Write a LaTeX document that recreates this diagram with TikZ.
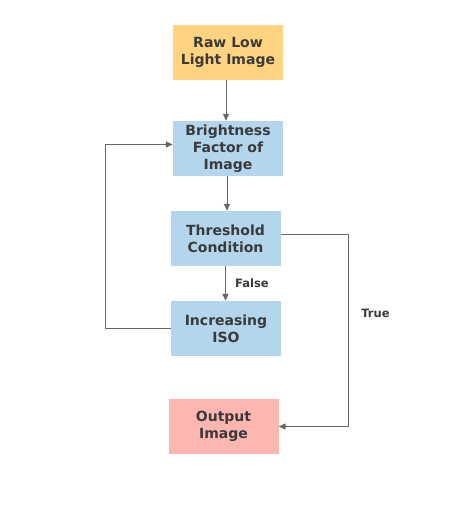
\documentclass[tikz,border=0pt]{standalone}
\usepackage{fontspec}
\setmainfont{DejaVu Sans}
\usetikzlibrary{arrows.meta,calc}
\definecolor{cOrange}{HTML}{FFD37F}
\definecolor{cBlue}{HTML}{B3D6EE}
\definecolor{cPink}{HTML}{FDB7B0}
\definecolor{cText}{HTML}{3A3A3A}
\definecolor{cLine}{HTML}{666666}
\tikzset{
  box/.style={rectangle, minimum width=110bp, minimum height=55bp, inner sep=0pt,
    align=center, text=cText, font=\fontsize{14bp}{17bp}\selectfont\bfseries},
  conn/.style={draw=cLine, line width=1bp, -{Triangle[length=7bp,width=6bp]}},
  lbl/.style={text=cText, font=\fontsize{11.5bp}{13bp}\selectfont\bfseries, inner sep=0pt}
}
\begin{document}
\begin{tikzpicture}[x=1bp,y=-1bp]
\useasboundingbox (0,0) rectangle (461,515);
\fill[white] (0,0) rectangle (461,515);
\node[box, fill=cOrange] (raw) at (228,52.5) {Raw Low\\Light Image};
\node[box, fill=cBlue] (bright) at (228,148.5) {Brightness\\Factor of\\Image};
\node[box, fill=cBlue] (thr) at (225.5,238.5) {Threshold\\Condition};
\node[box, fill=cBlue] (inc) at (226,328.5) {Increasing\\ISO};
\node[box, fill=cPink] (out) at (223.5,426.5) {Output\\Image};
\draw[conn] ($(raw.south)+(-2,0)$) -- ($(raw.south |- bright.north)+(-2,0)$);
\draw[conn] ($(bright.south)+(-1,0)$) -- ($(bright.south |- thr.north)+(-1,0)$);
\draw[conn] (thr.south) -- (thr.south |- inc.north);
\draw[conn] (inc.west) -- ++(-65.5,0) |- ($(bright.west)+(0,-4)$);
\draw[conn] ($(thr.east)+(0,-4.5)$) -- ++(67.5,0) |- (out.east);
\node[lbl, anchor=west] (f) at (235,283) {False};
\node[lbl] (t) at (375.5,313) {True};
\end{tikzpicture}
\end{document}
